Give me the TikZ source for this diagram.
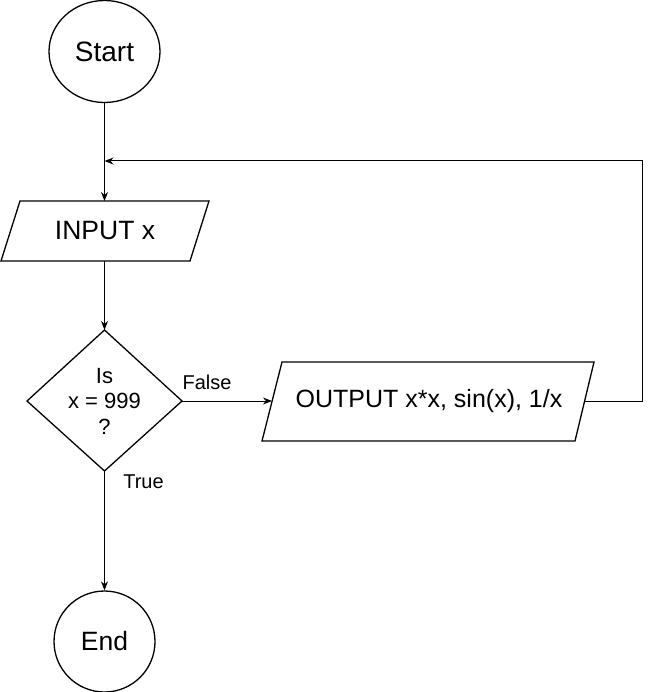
\documentclass[tikz,border=0pt]{standalone}
\usepackage{fontspec}
\setmainfont{Liberation Sans}
\usetikzlibrary{arrows.meta,shapes.geometric}
\begin{document}
\begin{tikzpicture}[x=1pt,y=-1pt,line width=1.3pt,
  big/.style={font=\fontsize{26.5}{30}\selectfont,inner sep=0pt},
  mid/.style={font=\fontsize{25}{29}\selectfont,inner sep=0pt},
  dtxt/.style={font=\fontsize{22}{25.5}\selectfont,inner sep=0pt,align=center},
  small/.style={font=\fontsize{20}{24}\selectfont,inner sep=0pt},
  term/.style={draw,ellipse,inner sep=0pt,line width=1.3pt},
  conn/.style={-{Stealth[length=9pt,width=7pt]},line width=1pt},
  plain/.style={line width=1pt}]
\useasboundingbox (0,0) rectangle (651,692);
% terminals
\node[term,font=\fontsize{28}{32}\selectfont,minimum width=111pt,minimum height=102pt] (start) at (104.5,51.5) {Start};
\node[term,big,minimum width=101pt,minimum height=101pt] (end) at (104.5,641.5) {End};
% input parallelogram
\coordinate (inTL) at (20,201);
\coordinate (inTR) at (209,201);
\coordinate (inBR) at (190,261);
\coordinate (inBL) at (1,261);
\draw (inTL) -- (inTR) -- (inBR) -- (inBL) -- cycle;
\node[big] (input) at (105,231) {INPUT x};
\coordinate (inTop) at (104.5,201);
\coordinate (inBot) at (104.5,261);
% decision diamond
\coordinate (dTop) at (104.5,330);
\coordinate (dRight) at (182,401);
\coordinate (dBot) at (104.5,471);
\coordinate (dLeft) at (27,401);
\draw (dTop) -- (dRight) -- (dBot) -- (dLeft) -- cycle;
\node[dtxt] (dec) at (104.5,401) {Is\\x = 999\\?};
% output parallelogram
\coordinate (oTL) at (282,362);
\coordinate (oTR) at (594,362);
\coordinate (oBR) at (575,441);
\coordinate (oBL) at (262,441);
\draw (oTL) -- (oTR) -- (oBR) -- (oBL) -- cycle;
\node[mid] (output) at (429,401) {OUTPUT x*x, sin(x), 1/x};
\coordinate (oLeft) at (272,401);
\coordinate (oRight) at (585,401);
% loop corners
\coordinate (loopB) at (642,401);
\coordinate (loopT) at (642,161);
\coordinate (join) at (104.5,161);
% connectors
\draw[conn] (start.south) -- (inTop);
\draw[conn] (inBot) -- (dTop);
\draw[conn] (dRight) -- (oLeft);
\draw[conn] (dBot) -- (end.north);
\draw[conn] (oRight) -- (loopB) -- (loopT) -- (join);
% labels
\node[small] (lfalse) at (207,382) {False};
\node[small] (ltrue) at (143.5,482) {True};
\end{tikzpicture}
\end{document}
